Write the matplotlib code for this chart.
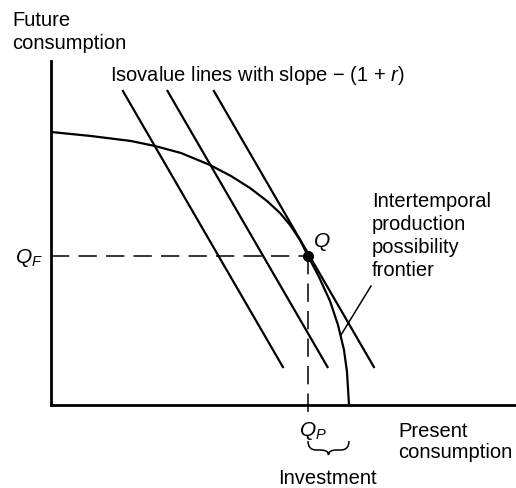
import numpy as np
import matplotlib
matplotlib.use("Agg")
import matplotlib.pyplot as plt
from matplotlib.path import Path
from matplotlib.patches import PathPatch

plt.rcParams['font.family'] = ['Liberation Sans', 'DejaVu Sans']
plt.rcParams['mathtext.fontset'] = 'custom'
plt.rcParams['mathtext.rm'] = 'Liberation Sans'
plt.rcParams['mathtext.it'] = 'Liberation Sans:italic'

# production possibility frontier (present, future)
frontier_x = [0, 40, 80, 104, 130, 159, 180, 199, 216, 229, 239, 249, 257, 268, 279, 287, 293, 296, 298]
frontier_y = [273, 269, 264, 259, 252, 240, 229, 217, 204, 192, 180, 165, 149, 128, 104, 80, 55, 33, 0]

# chosen production point Q
q_present = 257
q_future = 149

# isovalue lines: future = value - (1 + r) * present
slope = 1.725
iso_values = [438, 515, 595]
iso_top, iso_bottom = 314, 38

fig = plt.figure(figsize=(5.16, 4.89), dpi=100)
ax = fig.add_axes([51 / 516, 83 / 489, 465 / 516, 344 / 489])
ax.set_xlim(0, 465)
ax.set_ylim(0, 344)
for side in ['top', 'right']:
    ax.spines[side].set_visible(False)
for side in ['left', 'bottom']:
    ax.spines[side].set_linewidth(2.0)
ax.set_xticks([])
ax.set_yticks([])

# frontier
ax.plot(frontier_x, frontier_y, color='black', lw=1.6, solid_capstyle='butt')

# isovalue lines
for v in iso_values:
    ys = np.array([iso_top, iso_bottom])
    xs = (v - ys) / slope
    ax.plot(xs, ys, color='black', lw=1.6)

# dashed guides to Q
dash = dict(color='black', lw=1.1, dashes=(12, 6))
ax.plot([0, q_present], [q_future, q_future], **dash)
ax.plot([q_present, q_present], [q_future, -8], clip_on=False, **dash)
ax.plot([q_present], [q_future], 'o', color='black', ms=7)

# pointer to the frontier
ax.plot([320, 290], [119, 70], color='black', lw=1.1)

# brace under the investment span
x0, x1 = q_present, frontier_x[-1]
xm = (x0 + x1) / 2
yt, ymid, yb = -36, -45, -50
verts = [(x0, yt), (x0, ymid), (x0 + 8, ymid), (xm - 8, ymid), (xm, ymid), (xm, yb),
         (xm, ymid), (xm + 8, ymid), (x1 - 8, ymid), (x1, ymid), (x1, yt)]
codes = [Path.MOVETO, Path.CURVE3, Path.CURVE3, Path.LINETO, Path.CURVE3, Path.CURVE3,
         Path.CURVE3, Path.CURVE3, Path.LINETO, Path.CURVE3, Path.CURVE3]
ax.add_patch(PathPatch(Path(verts, codes), fill=False, lw=1.1, clip_on=False))


def put(x_px, y_px, s, size=14.5, **kw):
    # place text by pixel position of its baseline
    ax.text(x_px - 51, 406 - y_px, s, fontsize=size, va='baseline', clip_on=False, **kw)


put(12, 26, 'Future')
put(12, 49, 'consumption')
put(110, 81, 'Isovalue lines with slope \u2212 (1 + $r$)')
put(15, 263, '$Q_F$', size=15)
put(313, 247, '$Q$', size=15)
put(299, 436, '$Q_P$', size=15)
put(327, 484, 'Investment', ha='center')
for i, line in enumerate(['Intertemporal', 'production', 'possibility', 'frontier']):
    put(372, 207 + 23 * i, line)
put(398, 437, 'Present')
put(398, 458, 'consumption')

fig.savefig('out.png', dpi=100)
